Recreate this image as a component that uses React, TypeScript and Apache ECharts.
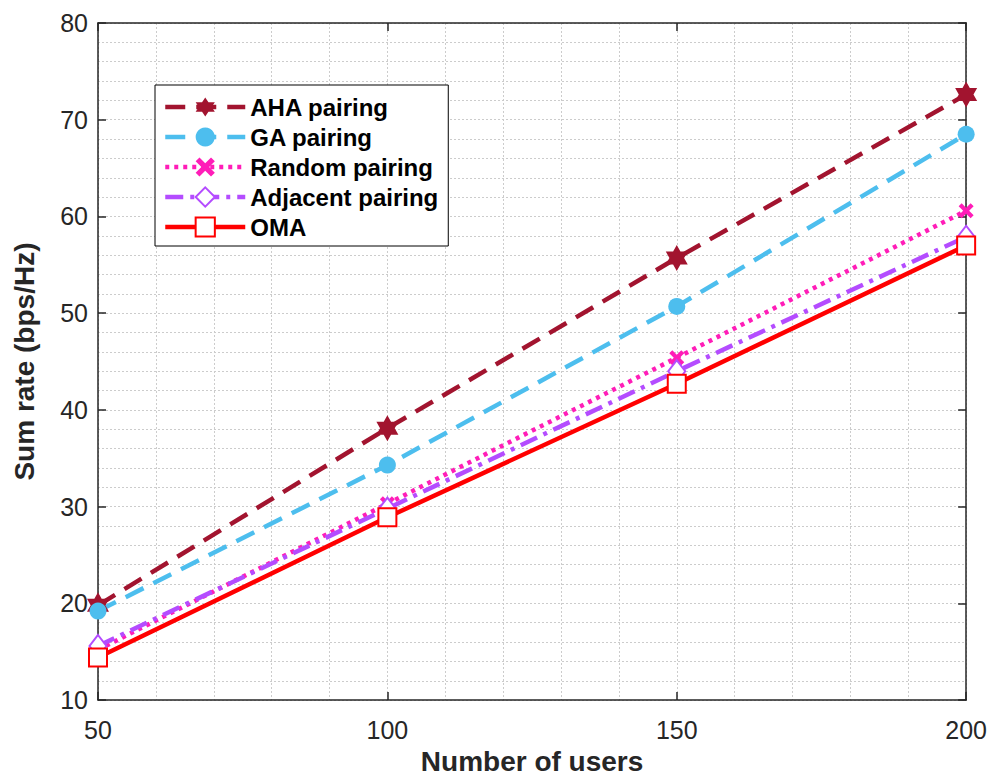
import React, { useEffect, useRef } from "react";
import * as echarts from "echarts";

const users = [50, 100, 150, 200];
const ahaPairing = [19.8, 38.1, 55.7, 72.6];
const gaPairing = [19.2, 34.3, 50.7, 68.5];
const randomPairing = [15.2, 30.3, 45.4, 60.6];
const adjacentPairing = [15.6, 29.8, 44.0, 57.9];
const omaValues = [14.4, 28.9, 42.7, 57.0];

const seriesNames = ["AHA pairing", "GA pairing", "Random pairing", "Adjacent pairing", "OMA"];

const HEXAGRAM =
  "path://M0,-10 L2.887,-5 L8.66,-5 L5.774,0 L8.66,5 L2.887,5 L0,10 L-2.887,5 L-8.66,5 L-5.774,0 L-8.66,-5 L-2.887,-5 Z";
const THICK_X =
  "path://M-10,-6 L-6,-10 L0,-4 L6,-10 L10,-6 L4,0 L10,6 L6,10 L0,4 L-6,10 L-10,6 L-4,0 Z";

const pairs = (vals: number[]) => users.map((u, i) => [u, vals[i]]);

export default function App() {
  const ref = useRef<HTMLDivElement>(null);
  useEffect(() => {
    document.body.style.margin = "0";
    const chart = echarts.init(ref.current!, null, { renderer: "svg" });
    const font = "Arial, 'Liberation Sans', sans-serif";
    const axisColor = "#262626";
    const gridLine = { show: true, lineStyle: { color: "#cccccc", type: [2, 2] as any, width: 1 } };
    const LW = 4.5;
    const mk = (
      name: string,
      vals: number[],
      color: string,
      type: any,
      symbol: string,
      symbolSize: any,
      itemStyle: any
    ) => ({
      name,
      type: "line",
      data: pairs(vals),
      symbol,
      symbolSize,
      showSymbol: true,
      lineStyle: { color, width: LW, type },
      itemStyle: { color, ...itemStyle },
      z: 3,
    });
    chart.setOption({
      animation: false,
      backgroundColor: "#fff",
      grid: { left: 98, top: 23, width: 869, height: 685, containLabel: false },
      legend: {
        orient: "vertical",
        left: 155,
        top: 85,
        padding: [10, 10, 7, 8],
        itemWidth: 80,
        itemHeight: 24,
        itemGap: 6,
        backgroundColor: "#fff",
        borderColor: "#000",
        borderWidth: 1,
        borderRadius: 0,
        lineStyle: { width: LW },
        data: seriesNames,
        textStyle: { fontFamily: font, fontWeight: "bold", fontSize: 24, color: "#000" },
      },
      xAxis: [
        {
          type: "value",
          min: 50,
          max: 200,
          interval: 50,
          name: "Number of users",
          nameLocation: "middle",
          nameGap: 46,
          nameTextStyle: { fontFamily: font, fontWeight: "bold", fontSize: 28, color: axisColor },
          axisLine: { show: true, onZero: false, lineStyle: { color: axisColor, width: 1.5 } },
          axisTick: { show: true, inside: true, length: 8, lineStyle: { color: axisColor, width: 1.5 } },
          axisLabel: { fontFamily: font, fontSize: 25, color: axisColor, margin: 17 },
          splitLine: gridLine,
          minorTick: { show: false, splitNumber: 5 },
          minorSplitLine: gridLine,
        },
        {
          type: "value",
          position: "top",
          min: 50,
          max: 200,
          interval: 50,
          axisLine: { show: true, onZero: false, lineStyle: { color: axisColor, width: 1.5 } },
          axisTick: { show: true, inside: true, length: 8, lineStyle: { color: axisColor, width: 1.5 } },
          axisLabel: { show: false },
          splitLine: { show: false },
        },
      ],
      yAxis: [
        {
          type: "value",
          min: 10,
          max: 80,
          interval: 10,
          name: "Sum rate (bps/Hz)",
          nameLocation: "middle",
          nameGap: 60,
          nameTextStyle: { fontFamily: font, fontWeight: "bold", fontSize: 28, color: axisColor },
          axisLine: { show: true, onZero: false, lineStyle: { color: axisColor, width: 1.5 } },
          axisTick: { show: true, inside: true, length: 8, lineStyle: { color: axisColor, width: 1.5 } },
          axisLabel: { fontFamily: font, fontSize: 25, color: axisColor, margin: 10 },
          splitLine: gridLine,
          minorTick: { show: false, splitNumber: 5 },
          minorSplitLine: gridLine,
        },
        {
          type: "value",
          position: "right",
          min: 10,
          max: 80,
          interval: 10,
          axisLine: { show: true, onZero: false, lineStyle: { color: axisColor, width: 1.5 } },
          axisTick: { show: true, inside: true, length: 8, lineStyle: { color: axisColor, width: 1.5 } },
          axisLabel: { show: false },
          splitLine: { show: false },
        },
      ],
      series: [
        mk(seriesNames[0], ahaPairing, "#A2142F", [20, 11], HEXAGRAM, [22, 26], {}),
        mk(seriesNames[1], gaPairing, "#4DBEEE", [20, 11], "circle", 17, {}),
        mk(seriesNames[2], randomPairing, "#FF1DB8", [4, 5], THICK_X, 15, {}),
        mk(seriesNames[3], adjacentPairing, "#B44CFF", [18, 7, 4, 7], "emptyDiamond", [17, 22], { borderWidth: 3 }),
        mk(seriesNames[4], omaValues, "#FF0000", "solid", "emptyRect", 18, { borderWidth: 3.5 }),
      ],
    });
    return () => chart.dispose();
  }, []);
  return <div ref={ref} style={{ width: 990, height: 780 }} />;
}
